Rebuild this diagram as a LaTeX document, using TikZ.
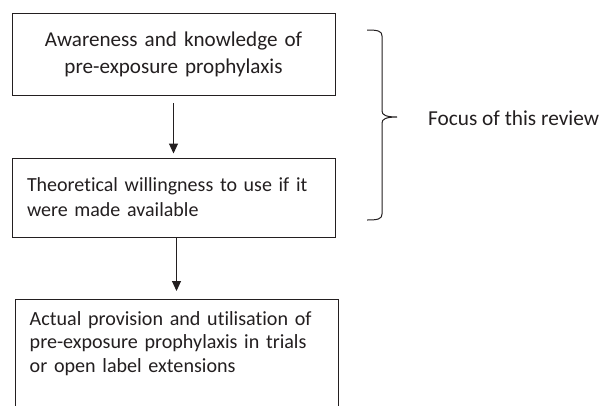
\documentclass[tikz,border=0pt]{standalone}
\usepackage{fontspec}
\setmainfont{Carlito}[Ligatures=NoCommon]
\usetikzlibrary{arrows.meta}
\definecolor{ink}{HTML}{231F20}
\tikzset{
  box/.style={draw=ink, line width=1pt, minimum width=323pt, inner xsep=15pt, text width=293pt, text=ink, font=\fontsize{21.3}{26}\selectfont},
  conn/.style={draw=ink, line width=1pt, -{Triangle[width=9pt,length=10pt]}},
  lbl/.style={text=ink, font=\fontsize{21.3}{26}\selectfont, inner sep=0pt}
}
\begin{document}
\begin{tikzpicture}[x=1pt,y=-1pt]
\clip (0,0) rectangle (601,405);
\fill[white] (0,0) rectangle (601,405);
\node[box, align=center, minimum height=82pt, font=\fontsize{21.1}{27}\selectfont] (b1) at (173.5,54.5) {Awareness and knowledge of\\pre-exposure prophylaxis};
\node[box, align=left, minimum height=79pt, font=\fontsize{20}{25}\selectfont] (b2) at (173.5,197.5) {\mbox{Theoretical willingness to use if it}\\\mbox{were made available}};
\node[box, minimum height=140pt, anchor=north] (b3) at (176.5,299) {};
\node[lbl, anchor=north west, align=left, text width=293pt, font=\fontsize{20.1}{23.5}\selectfont] (t3) at ([xshift=15pt,yshift=-12pt]b3.north west) {\mbox{Actual provision and utilisation of}\\\mbox{pre-exposure prophylaxis in trials}\\\mbox{or open label extensions}};
\draw[conn, shorten <=7pt, shorten >=4pt] (b1.south) -- (b2.north);
\draw[conn, shorten >=8pt] (b3.north |- b2.south) -- (b3.north);
\coordinate (bt) at (367,30);
\coordinate (btip) at (397,117);
\coordinate (bb) at (367,220);
\draw[ink, line width=1pt] (bt) .. controls (378,30) and (382,31) .. (382,36) -- (382,111)
  .. controls (382,115) and (386,117) .. (btip)
  .. controls (386,117) and (382,119) .. (382,123) -- (382,214)
  .. controls (382,219) and (378,220) .. (bb);
\node[lbl, anchor=west] (focus) at (428,118) {Focus of this review};
\end{tikzpicture}
\end{document}
